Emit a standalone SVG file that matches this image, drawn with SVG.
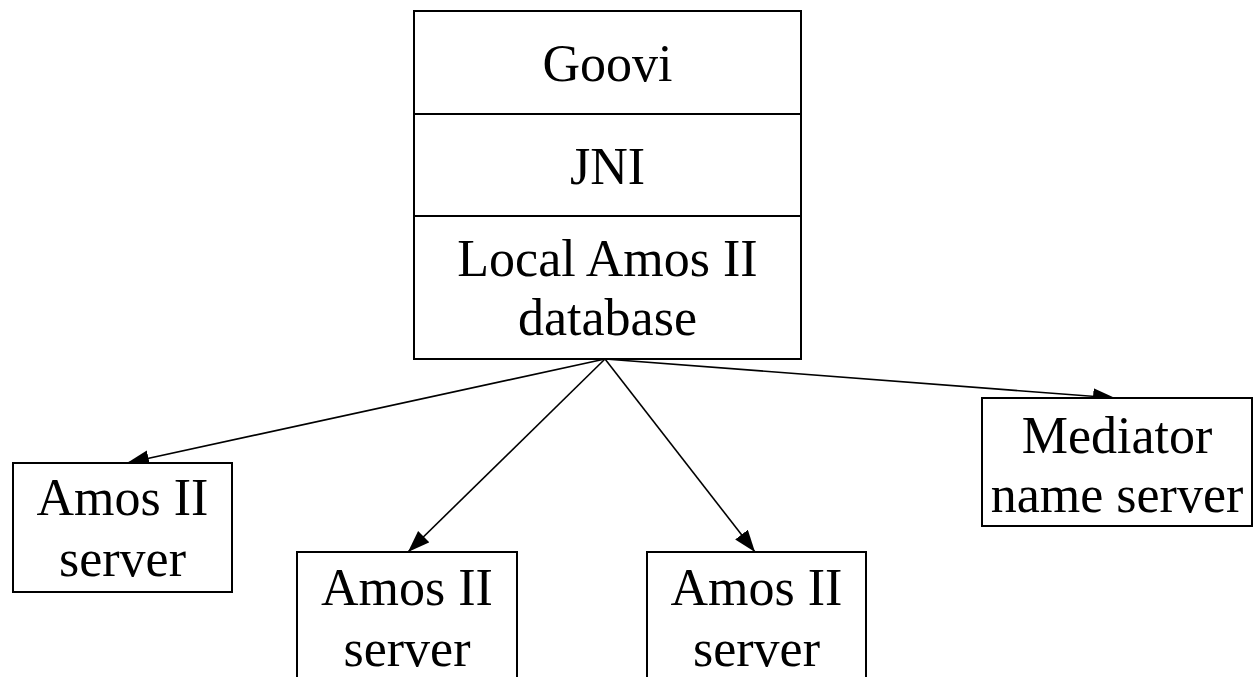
<svg xmlns="http://www.w3.org/2000/svg" width="1253" height="677" viewBox="0 0 1253 677">
<style>
.box{fill:#fff;stroke:#000;stroke-width:2}
.t{font-family:"Liberation Serif","Times New Roman",serif;font-size:52px;fill:#000;text-anchor:middle}
.c{stroke:#000;stroke-width:1.6;fill:none;marker-end:url(#ah)}
</style>
<defs>
<marker id="ah" markerUnits="userSpaceOnUse" markerWidth="24" markerHeight="18" refX="22" refY="8" orient="auto">
<path d="M0,0 L22,8 L0,16 z" fill="#000"/>
</marker>
</defs>
<rect width="1253" height="677" fill="#fff"/>
<g id="top-stack">
<rect class="box" x="414" y="11" width="387" height="348"/>
<line x1="414" y1="114" x2="801" y2="114" stroke="#000" stroke-width="2"/>
<line x1="414" y1="216" x2="801" y2="216" stroke="#000" stroke-width="2"/>
<text class="t" x="607.5" y="81">Goovi</text>
<text class="t" x="607.5" y="184">JNI</text>
<text class="t" x="607.5" y="276">Local Amos II</text>
<text class="t" x="607.5" y="335">database</text>
</g>
<g id="connectors">
<line class="c" x1="605" y1="359" x2="127" y2="463"/>
<line class="c" x1="605" y1="359" x2="408" y2="552"/>
<line class="c" x1="605" y1="359" x2="755" y2="552"/>
<line class="c" x1="605" y1="359" x2="1115" y2="398"/>
</g>
<g id="server1">
<rect class="box" x="13" y="463" width="219" height="129"/>
<text class="t" x="122.5" y="515">Amos II</text>
<text class="t" x="122.5" y="576">server</text>
</g>
<g id="server2">
<rect class="box" x="297" y="552" width="220" height="150"/>
<text class="t" x="407" y="605">Amos II</text>
<text class="t" x="407" y="666">server</text>
</g>
<g id="server3">
<rect class="box" x="647" y="552" width="219" height="150"/>
<text class="t" x="756.5" y="605">Amos II</text>
<text class="t" x="756.5" y="666">server</text>
</g>
<g id="mediator">
<rect class="box" x="982" y="398" width="270" height="128"/>
<text class="t" x="1117" y="453">Mediator</text>
<text class="t" x="1117" y="512">name server</text>
</g>
</svg>
